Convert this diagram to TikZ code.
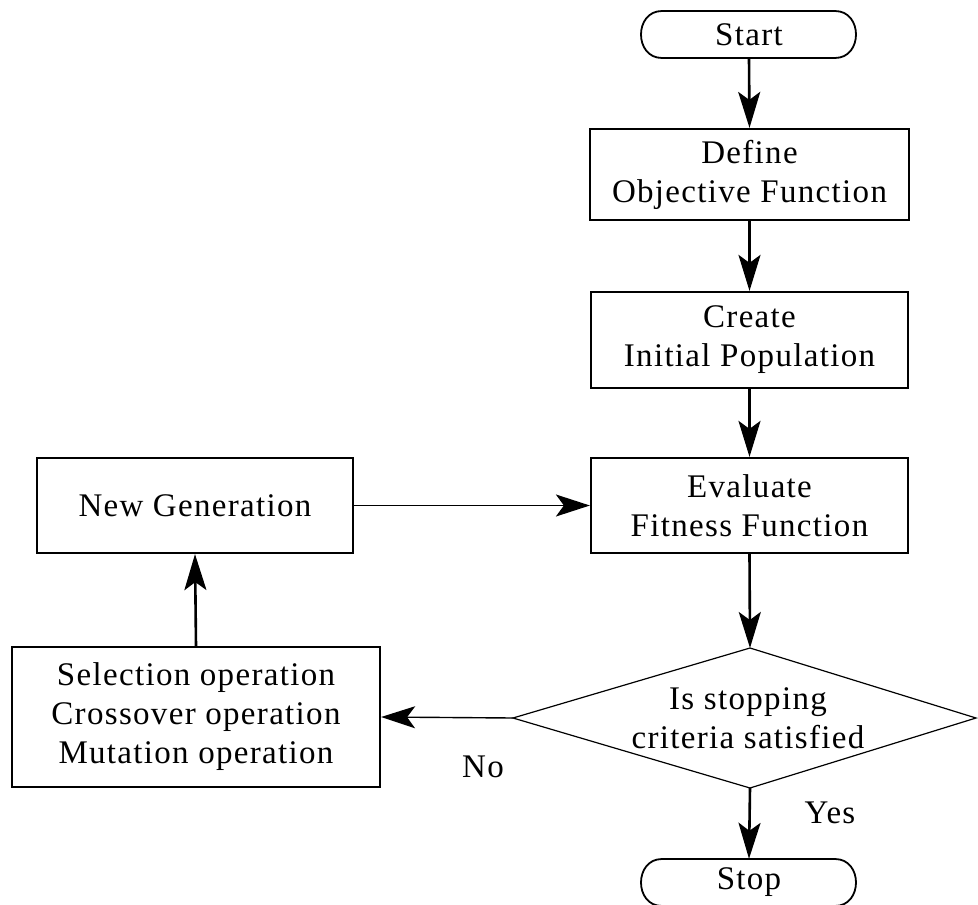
\documentclass[tikz,border=0pt]{standalone}
\usepackage{fontspec}
\setmainfont[LetterSpace=4]{Liberation Serif}
\usetikzlibrary{arrows.meta}
\tikzset{
  termshape/.pic={\draw[line width=1.8pt] (-87,-23.5) -- (86,-23.5) .. controls (114,-23.5) and (114,23.5) .. (86,23.5) -- (-87,23.5) .. controls (-115,23.5) and (-115,-23.5) .. (-87,-23.5);},
}
\begin{document}
\begin{tikzpicture}[x=1pt,y=-1pt,
  every node/.style={font=\fontsize{33}{39}\selectfont, align=center},
  proc/.style={draw, line width=2.2pt, inner sep=0pt},
  term/.style={minimum width=212pt, minimum height=47pt, inner sep=0pt},
  conn/.style={line width=2.6pt, -{Stealth[length=36pt,width=22pt,inset=8pt]}},
  hconn/.style={line width=1.4pt, -{Stealth[length=34pt,width=22pt,inset=8pt]}},
  lbl/.style={inner sep=0pt}]
\useasboundingbox (0,0) rectangle (978,905);
% terminals
\node[term] (start) at (749,34.5) {Start};
\pic at (749,34.5) {termshape};
\node[term] (stop) at (749,882.5) {Stop};
\pic at (749,882.5) {termshape};
% process boxes
\node[proc, minimum width=319pt, minimum height=91pt] (define) at (749.5,174.5) {Define\\Objective Function};
\node[proc, minimum width=317pt, minimum height=96pt] (create) at (749.5,340) {Create\\Initial Population};
\node[proc, minimum width=317pt, minimum height=95pt] (eval) at (749.5,505.5) {Evaluate\\Fitness Function};
\node[proc, minimum width=316pt, minimum height=95pt] (newgen) at (195,505.5) {New Generation};
\node[proc, minimum width=368pt, minimum height=140pt] (sel) at (196,717) {Selection operation\\Crossover operation\\Mutation operation};
% decision
\coordinate (dtop) at (750,648);
\coordinate (dright) at (976,718);
\coordinate (dbot) at (750,788);
\coordinate (dleft) at (513,718);
\draw[line width=1.2pt] (dtop) -- (dright) -- (dbot) -- (dleft) -- cycle;
\node (dec) at (748,718) {Is stopping\\criteria satisfied};
% labels
\node[lbl] (no) at (483,767) {No};
\node[lbl] (yes) at (830,813) {Yes};
% connectors
\draw[conn] (start.south) -- (define.north);
\draw[conn] (define.south) -- (create.north);
\draw[conn] (create.south) -- (eval.north);
\draw[conn] (eval.south) -- (dtop);
\draw[conn] (dbot) -- (stop.north);
\draw[hconn] (dleft) -- (sel.east);
\draw[conn] (sel.north) -- (newgen.south);
\draw[hconn] (newgen.east) -- (eval.west);
\end{tikzpicture}
\end{document}
